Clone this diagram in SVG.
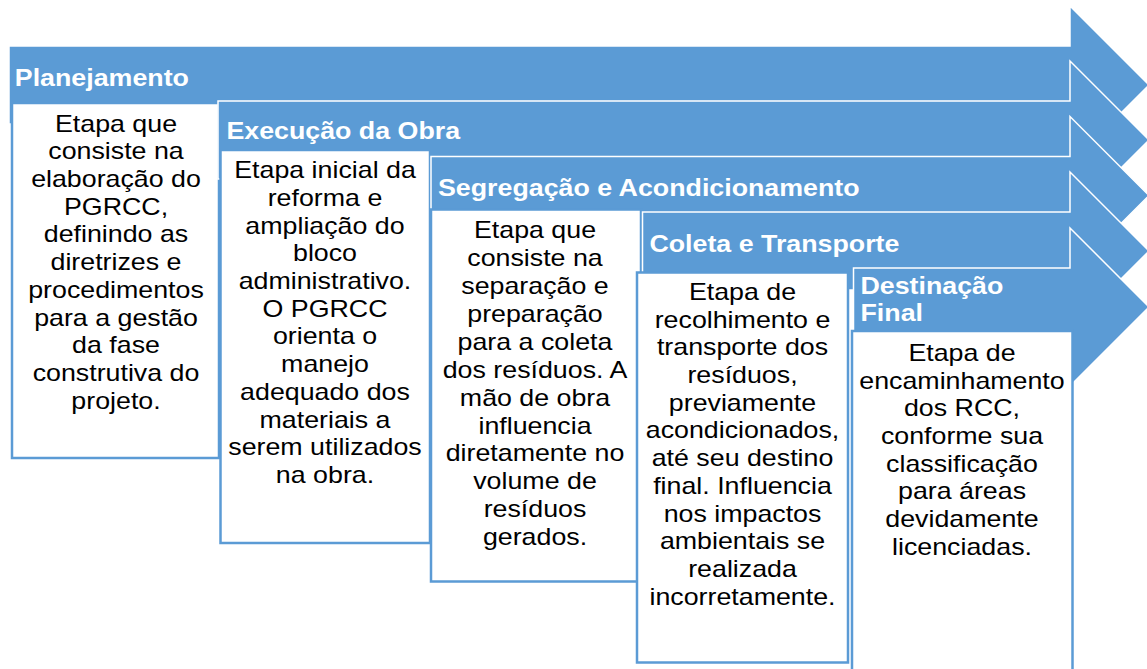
<svg xmlns="http://www.w3.org/2000/svg" width="1147" height="669" viewBox="0 0 1147 669">
<style>
.arrow{fill:#5B9BD5;stroke:#FFFFFF;stroke-width:1.5;stroke-linejoin:miter}
.box{fill:#FFFFFF;stroke:#5B9BD5;stroke-width:2.5}
.title{font-family:"Liberation Sans",Arial,sans-serif;font-weight:bold;font-size:23px;fill:#FFFFFF}
.body{font-family:"Liberation Sans",Arial,sans-serif;font-size:23px;fill:#000000;text-anchor:middle}
</style>
<rect width="1147" height="669" fill="#FFFFFF"/>
<g id="node1">
<path class="arrow" d="M9,46 H1070 V6 L1149,85 L1070,164 V124 H9 Z"/>
<rect class="box" x="12" y="103" width="207" height="355"/>
<text class="title" transform="translate(14.8,86) scale(1.165,1)">Planejamento</text>
<text class="body" transform="translate(116,0) scale(1.165,1)"><tspan x="0" y="131.7">Etapa que</tspan><tspan x="0" y="159.4">consiste na</tspan><tspan x="0" y="187.1">elaboração do</tspan><tspan x="0" y="214.8">PGRCC,</tspan><tspan x="0" y="242.5">definindo as</tspan><tspan x="0" y="270.2">diretrizes e</tspan><tspan x="0" y="297.9">procedimentos</tspan><tspan x="0" y="325.6">para a gestão</tspan><tspan x="0" y="353.3">da fase</tspan><tspan x="0" y="381">construtiva do</tspan><tspan x="0" y="408.7">projeto.</tspan></text>
</g>
<g id="node2">
<path class="arrow" d="M218,101 H1070 V61 L1149,140 L1070,219 V179 H218 Z"/>
<rect class="box" x="220.5" y="150" width="209.5" height="393"/>
<text class="title" transform="translate(226.4,138.5) scale(1.165,1)">Execução da Obra</text>
<text class="body" transform="translate(325,0) scale(1.165,1)"><tspan x="0" y="178.3">Etapa inicial da</tspan><tspan x="0" y="206">reforma e</tspan><tspan x="0" y="233.7">ampliação do</tspan><tspan x="0" y="261.4">bloco</tspan><tspan x="0" y="289.1">administrativo.</tspan><tspan x="0" y="316.8">O PGRCC</tspan><tspan x="0" y="344.5">orienta o</tspan><tspan x="0" y="372.2">manejo</tspan><tspan x="0" y="399.9">adequado dos</tspan><tspan x="0" y="427.6">materiais a</tspan><tspan x="0" y="455.3">serem utilizados</tspan><tspan x="0" y="483">na obra.</tspan></text>
</g>
<g id="node3">
<path class="arrow" d="M431,156.5 H1070 V116.5 L1149,195.5 L1070,274.5 V234.5 H431 Z"/>
<rect class="box" x="431" y="209.5" width="210" height="372"/>
<text class="title" transform="translate(438,196) scale(1.165,1)">Segregação e Acondicionamento</text>
<text class="body" transform="translate(535,0) scale(1.165,1)"><tspan x="0" y="238.3">Etapa que</tspan><tspan x="0" y="266.2">consiste na</tspan><tspan x="0" y="294.1">separação e</tspan><tspan x="0" y="322">preparação</tspan><tspan x="0" y="349.9">para a coleta</tspan><tspan x="0" y="377.8">dos resíduos. A</tspan><tspan x="0" y="405.7">mão de obra</tspan><tspan x="0" y="433.6">influencia</tspan><tspan x="0" y="461.5">diretamente no</tspan><tspan x="0" y="489.4">volume de</tspan><tspan x="0" y="517.3">resíduos</tspan><tspan x="0" y="545.2">gerados.</tspan></text>
</g>
<g id="node4">
<path class="arrow" d="M642.5,212 H1070 V172 L1149,251 L1070,330 V290 H642.5 Z"/>
<rect class="box" x="637" y="272.5" width="211" height="390"/>
<text class="title" transform="translate(649.4,251.5) scale(1.165,1)">Coleta e Transporte</text>
<text class="body" transform="translate(742.5,0) scale(1.165,1)"><tspan x="0" y="300">Etapa de</tspan><tspan x="0" y="327.7">recolhimento e</tspan><tspan x="0" y="355.4">transporte dos</tspan><tspan x="0" y="383.1">resíduos,</tspan><tspan x="0" y="410.8">previamente</tspan><tspan x="0" y="438.5">acondicionados,</tspan><tspan x="0" y="466.2">até seu destino</tspan><tspan x="0" y="493.9">final. Influencia</tspan><tspan x="0" y="521.6">nos impactos</tspan><tspan x="0" y="549.3">ambientais se</tspan><tspan x="0" y="577">realizada</tspan><tspan x="0" y="604.7">incorretamente.</tspan></text>
</g>
<g id="node5">
<path class="arrow" d="M853.5,268 H1070 V228 L1149,307 L1070,386 V346 H853.5 Z"/>
<rect class="box" x="852" y="331" width="220.5" height="360"/>
<text class="title" transform="translate(860.5,293.5) scale(1.165,1)"><tspan x="0" y="0">Destinação</tspan><tspan x="0" y="28">Final</tspan></text>
<text class="body" transform="translate(962,0) scale(1.165,1)"><tspan x="0" y="361">Etapa de</tspan><tspan x="0" y="388.7">encaminhamento</tspan><tspan x="0" y="416.4">dos RCC,</tspan><tspan x="0" y="444.1">conforme sua</tspan><tspan x="0" y="471.8">classificação</tspan><tspan x="0" y="499.5">para áreas</tspan><tspan x="0" y="527.2">devidamente</tspan><tspan x="0" y="554.9">licenciadas.</tspan></text>
</g>
</svg>
